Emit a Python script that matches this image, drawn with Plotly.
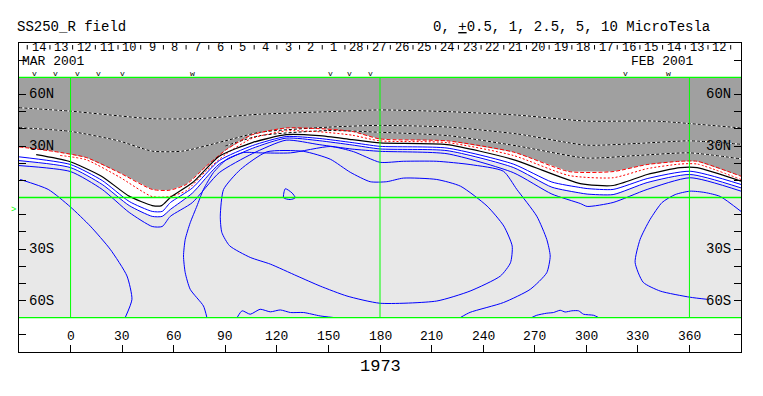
import plotly.graph_objects as go

# ---------------- data (longitude, latitude) ----------------
black0_lon = [-20, -1, 18, 34, 47.5, 53, 58, 71, 86.5, 105.7, 125.4, 144.6, 163.8, 180, 219, 257.5, 296.5, 315.6, 335.4, 354.6, 364.5, 390]
black0_lat = [25.0, 21.1, 12.4, 0.8, -4.7, -4.7, 0.0, 8.7, 24.0, 32.0, 36.6, 36.0, 33.7, 31.8, 30.8, 22.1, 8.1, 7.0, 13.4, 17.4, 17.4, 9.5]

redA_lon = [-30, -10.1, 9.1, 28.3, 47.5, 57.4, 67.3, 78.9, 90.6, 105.7, 125.4, 144.6, 163.8, 180, 219, 257.5, 290, 315.6, 335.4, 354.6, 364.5, 390]
redA_lat = [29.5, 26.9, 23.3, 14.5, 4.7, 4.2, 7.6, 18.2, 27.9, 36.6, 40.5, 40.1, 38.5, 34.1, 33.0, 26.5, 15.1, 15.1, 19.2, 21.1, 21.1, 12.4]

redB_lon = [-6, 9.1, 28.3, 47.5, 57.4, 67.3, 78.9, 90.6, 105.7, 125.4, 144.6, 163.8, 180, 219, 257.5, 290, 315.6, 335.4, 354.6, 364.5, 390]
redB_lat = [24.5, 22.0, 12.0, 0.5, 0.5, 4.0, 15.5, 25.5, 34.5, 38.8, 38.3, 36.3, 33.0, 32.0, 24.5, 12.8, 11.5, 16.8, 19.5, 19.5, 10.5]

neg1_lon = [-30, 0, 47.5, 75, 110, 150, 180, 220, 260, 300, 340, 390]
neg1_lat = [52.3, 50.3, 45.9, 46.0, 48.5, 50.0, 51.0, 50.0, 48.0, 44.5, 44.5, 40.5]
neg2_lon = [-30, 0, 28, 47.5, 65, 90, 110, 150, 180, 220, 260, 300, 330, 360, 390]
neg2_lat = [40.7, 38.5, 33.0, 27.0, 27.0, 33.0, 38.0, 41.0, 42.0, 41.0, 37.0, 30.5, 31.5, 33.0, 31.0]
neg3_lon = [90, 110, 150, 180, 220, 260, 300, 330, 360, 390]
neg3_lat = [30.0, 36.0, 39.0, 38.0, 36.0, 30.0, 23.0, 24.5, 26.0, 22.5]

b_lon = [-30, 0, 18.4, 34.1, 47.5, 53.3, 58, 70.8, 86.5, 105.7, 125.4, 144.6, 163.8, 180, 219, 257.5, 280, 296.5, 300.5, 315.6, 335.4, 360.4, 390]
b1_lat = [23.7, 19.2, 9.9, -2.3, -8.1, -8.1, -3.0, 5.5, 21.5, 30.2, 35.5, 34.4, 32.0, 29.8, 28.8, 19.5, 9.0, 5.8, 5.2, 4.7, 11.0, 15.3, 7.6]
b2_lat = [21.5, 17.4, 7.6, -4.7, -11.0, -11.0, -7.0, 2.5, 19.5, 28.6, 34.6, 33.1, 30.6, 28.3, 27.3, 17.5, 6.0, 2.6, 2.0, 1.7, 8.7, 13.4, 5.6]
b3_lat = [18.6, 15.1, 4.7, -8.7, -16.9, -16.9, -11.0, -3.0, 14.5, 25.5, 33.4, 30.8, 28.2, 26.9, 25.5, 14.5, 2.0, -3.5, -5.2, -2.9, 4.7, 11.5, 3.7]

b4L_lon = [-29.3, -13.0, -0.2, 11.5, 23.1, 32.8, 35.7, 31.8]
b4L_lat = [10.5, 4.7, -5.4, -16.7, -30.2, -45.7, -59.3, -69.9]

outer_lon = [79.3, 77.3, 69.6, 66.7, 65.7, 66.7, 69.6, 73.5, 77.3, 83.1, 90.9, 100.6, 110.3, 127.9, 151.1, 164.6, 180, 193.6, 213.0, 232.4, 251.8, 259.6, 271.2, 277.0, 279.0, 277.0, 267.4, 251.8, 232.4, 226.8]
outer_lat = [-69.9, -63.2, -53.5, -43.8, -34.1, -24.4, -14.7, -5.0, 4.7, 14.5, 22.3, 26.2, 26.0, 26.0, 29.7, 26.7, 20.5, 21.1, 21.1, 19.2, 15.3, 4.7, -10.9, -24.4, -34.1, -43.8, -53.5, -61.2, -66.9, -69.9]

inner_lon = [114.2, 135.4, 151.1, 162.7, 174.3, 183.9, 193.6, 213.0, 226.8, 242.3, 252.0, 256.9, 255.9, 250.1, 232.4, 213.0, 180, 160.8, 145.2, 131.7, 116.2, 104.5, 92.5, 88.0, 87.1, 89.0, 98.8, 114.2]
inner_lat = [26.6, 26.9, 22.3, 14.7, 9.2, 9.2, 11.3, 10.5, 6.6, -5.0, -16.6, -28.3, -38.0, -45.7, -54.5, -60.3, -61.6, -57.4, -51.6, -45.7, -38.8, -34.9, -28.1, -20.4, -10.9, 4.7, 16.3, 26.6]

loopR_lon = [390, 377.9, 369.1, 360.4, 351.7, 344.1, 337.1, 331.3, 328.4, 333.1, 343.0, 360.4, 370.3]
loopR_lat = [-8.1, 0.6, 2.9, 3.7, 1.7, -2.9, -12.8, -24.4, -37.8, -49.4, -54.5, -58.1, -59.3]

loopS_lon = [124.9, 123.9, 127.8, 130.7, 128.8, 124.9]
loopS_lat = [5.1, -0.2, -1.2, -0.2, 2.7, 5.1]

bot1_lon = [96.9, 99.8, 104.5, 110.3, 116.2, 122.0, 127.9, 135.6, 145.2, 153.0]
bot1_lat = [-69.9, -66.0, -68.0, -65.1, -66.6, -65.5, -67.0, -67.0, -69.0, -69.9]
bot2_lon = [268.3, 271.2, 277.0, 280.9, 284.8, 287.7, 291.6, 295.5, 298.4, 304.2, 307.1]
bot2_lat = [-69.9, -68.6, -67.4, -67.0, -65.7, -66.7, -66.0, -66.0, -68.0, -68.6, -69.9]

# axis / label data
lon_ticks = [0, 30, 60, 90, 120, 150, 180, 210, 240, 270, 300, 330, 360]
lat_labels = [60, 30, -30, -60]
lat_text = ["60N", "30N", "30S", "60S"]
day_labels = ["14", "13", "12", "11", "10", "9", "8", "7", "6", "5", "4", "3", "2", "1",
              "28", "27", "26", "25", "24", "23", "22", "21", "20", "19", "18", "17", "16", "15", "14", "13", "12"]
day_ticks = [-25.2, -12.0, 1.2, 14.4, 27.6, 40.8, 54.0, 67.2, 80.4, 93.6, 106.8, 120.0, 133.2, 146.4, 159.6,
             172.8, 186.0, 199.2, 212.4, 225.6, 238.8, 252.0, 265.2, 278.4, 291.6, 304.8, 318.0, 331.2,
             344.4, 357.6, 370.8, 384.0]
obs_lon = [-21.1, -8.9, 4.1, 16.3, 30.3, 71.0, 151.4, 162.1, 174.7, 322.6, 347.8]
obs_sym = ["v", "v", "v", "v", "v", "w", "v", "v", "v", "v", "w"]
b0_lat = -7

FONT = "Liberation Mono, Courier New, monospace"
GRAY = "#a0a0a0"
LIGHT = "#e8e8e8"
GREEN = "#00ff00"
BLUE = "#0000ff"
RED = "#ff0000"
XMIN, XMAX, YMIN, YMAX = -30, 390, -90, 90

fig = go.Figure()


def add_line(lon, lat, color, width=1, dash=None, shape="spline"):
    fig.add_trace(go.Scatter(x=lon, y=lat, mode="lines",
                             line=dict(color=color, width=width, dash=dash, shape=shape, smoothing=0.6),
                             hoverinfo="skip", showlegend=False))


def add_fill(lon, lat, color):
    fig.add_trace(go.Scatter(x=lon, y=lat, mode="lines", fill="toself", fillcolor=color,
                             line=dict(color="rgba(0,0,0,0)", width=0), hoverinfo="skip", showlegend=False))


# backgrounds: light map, white band near neutral line, dark gray negative region
fig.add_shape(type="rect", x0=-30, x1=390, y0=-70, y1=70, fillcolor=LIGHT, line_width=0, layer="below")
add_fill(b_lon + [390, -30], b2_lat + [70, 70], "#ffffff")
add_fill(redA_lon + [390, -30], redA_lat + [70, 70], GRAY)

# negative contours: white line under black dashes
for lo, la in [(neg1_lon, neg1_lat), (neg2_lon, neg2_lat), (neg3_lon, neg3_lat)]:
    add_line(lo, la, "#ffffff")
    add_line(lo, la, "#000000", dash="3px,2px")
add_line(redA_lon, redA_lat, RED, dash="4px,2px")
add_line(redB_lon, redB_lat, RED, dash="2px,2px")
add_line(black0_lon, black0_lat, "#000000", width=1.2)
for la in [b1_lat, b2_lat, b3_lat]:
    add_line(b_lon, la, BLUE)
for lo, la in [(b4L_lon, b4L_lat), (outer_lon, outer_lat), (inner_lon, inner_lat), (loopR_lon, loopR_lat),
               (loopS_lon, loopS_lat), (bot1_lon, bot1_lat), (bot2_lon, bot2_lat)]:
    add_line(lo, la, BLUE)

# green grid
for lo in [0, 180, 360]:
    fig.add_shape(type="line", x0=lo, x1=lo, y0=-70, y1=70, line=dict(color=GREEN, width=1))
for la in [70, 0, -70]:
    fig.add_shape(type="line", x0=-30, x1=390, y0=la, y1=la, line=dict(color=GREEN, width=1.3))

# top day ticks
for d in day_ticks:
    fig.add_shape(type="line", x0=d, x1=d, y0=88.8, y1=86.2, line=dict(color="#000000", width=1))

ann = []


def txt(lon, lat, t, size=14, anchor="center", color="#000000"):
    ann.append(dict(x=(lon - XMIN) / (XMAX - XMIN), y=(lat - YMIN) / (YMAX - YMIN), xref="paper", yref="paper",
                    text=t, xanchor=anchor, yanchor="middle", showarrow=False,
                    font=dict(family=FONT, size=size, color=color)))


for lo in lon_ticks:
    txt(lo, -80.8, str(lo), 13)
for la, t in zip(lat_labels, lat_text):
    txt(-25.2, la, t, 14, "left")
    txt(385.4, la, t, 14, "right")
for i, t in enumerate(day_labels):
    txt((day_ticks[i] + day_ticks[i + 1]) / 2, 87.2, t, 12)
for lo, s in zip(obs_lon, obs_sym):
    txt(lo, 72.3, s, 8)
txt(-29.6, 79.3, "MAR 2001", 13, "left")
txt(344.6, 79.3, "FEB 2001", 13)
txt(-30.5, b0_lat, ">", 9, "right", GREEN)
txt(-32.3, 99.4, "SS250_R field", 14, "left")
txt(291.2, 99.4, "0, <u>+</u>0.5, 1, 2.5, 5, 10 MicroTesla", 14)
txt(180, -98.3, "1973", 17)

# the page body adds an 8px offset, so margins are reduced by 8 to keep the plot frame in place
fig.update_layout(
    width=755, height=388, margin=dict(l=11, r=22, t=35, b=44),
    paper_bgcolor="#ffffff", plot_bgcolor="#ffffff",
    annotations=ann,
    xaxis=dict(range=[XMIN, XMAX], showgrid=False, zeroline=False, showline=True, mirror=True,
               linecolor="#000", linewidth=1, ticks="inside", tickvals=lon_ticks, ticklen=7,
               tickcolor="#000", showticklabels=False),
    yaxis=dict(range=[YMIN, YMAX], showgrid=False, zeroline=False, showline=True, mirror="ticks",
               linecolor="#000", linewidth=1, ticks="inside", dtick=10, tick0=0, ticklen=7,
               tickcolor="#000", showticklabels=False),
)
fig.write_html("out.html")
